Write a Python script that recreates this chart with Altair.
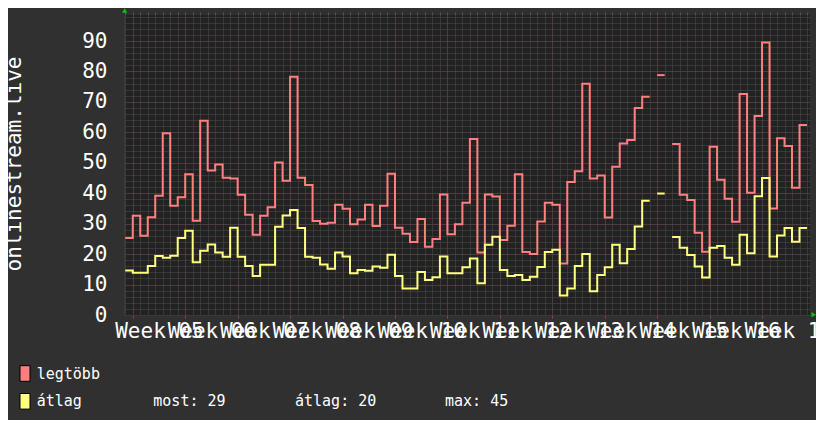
import altair as alt
import pandas as pd

# ---------------- data ----------------
days = list(range(91))
legtobb = [25.3, 32.6, 26.0, 32.1, 39.2, 59.7, 35.9, 38.7, 46.2, 31.0,
           63.8, 47.5, 49.4, 45.1, 44.8, 39.5, 32.9, 26.4, 32.6, 35.4,
           50.1, 44.1, 78.3, 45.1, 42.7, 30.9, 30.0, 30.3, 36.2, 34.9,
           29.8, 31.4, 36.2, 29.2, 35.9, 46.4, 28.7, 26.7, 24.0, 31.5,
           22.4, 25.0, 39.6, 26.5, 29.8, 36.9, 57.8, 20.5, 39.6, 38.9,
           24.6, 29.3, 46.2, 20.7, 20.0, 30.7, 36.9, 36.2, 16.9, 43.7,
           47.2, 76.0, 44.8, 45.8, 32.0, 48.7, 56.3, 57.5, 68.0, 71.7,
           None, 78.8, None, 56.2, 39.5, 37.8, 27.0, 20.8, 55.3, 44.4,
           38.2, 30.6, 72.6, 40.2, 65.4, 89.5, 35.0, 58.1, 55.5, 41.8,
           62.4]
atlag = [14.6, 13.9, 13.9, 16.1, 19.4, 18.8, 19.5, 25.3, 27.7, 17.3,
         21.1, 23.2, 20.5, 19.1, 28.7, 19.1, 16.1, 12.8, 16.5, 16.5,
         29.0, 32.7, 34.5, 28.6, 19.1, 18.8, 16.6, 15.2, 20.5, 19.2,
         13.7, 14.8, 14.5, 15.9, 15.5, 19.8, 12.8, 8.7, 8.7, 14.1,
         11.5, 12.4, 19.2, 13.7, 13.7, 15.7, 18.6, 10.4, 23.1, 25.7,
         14.8, 12.8, 13.1, 11.5, 12.6, 15.8, 20.7, 21.4, 6.4, 8.7,
         16.1, 20.0, 7.8, 13.1, 15.7, 23.1, 17.0, 21.7, 29.1, 37.5,
         None, 39.9, None, 25.6, 22.1, 19.7, 15.9, 12.3, 22.1, 22.7,
         18.8, 16.5, 26.4, 20.3, 39.0, 45.0, 19.2, 26.1, 28.6, 24.1,
         28.6]
series_names = ["legtöbb", "átlag"]
series_colors = ["#ff7f7f", "#ffff7f"]
week_starts = [1, 8, 15, 22, 29, 36, 43, 50, 57, 64, 71, 78, 85]
week_labels = ["Week 05", "Week 06", "Week 07", "Week 08", "Week 09",
               "Week 10", "Week 11", "Week 12", "Week 13", "Week 14",
               "Week 15", "Week 16", "Week 17"]
day_ticks = list(range(92))
y_major = [0, 10, 20, 30, 40, 50, 60, 70, 80, 90]
y_minor = list(range(0, 99, 2))
y_title = "onlinestream.live"
stat_texts = ["most: 29", "átlag: 20", "max: 45"]

# ---------------- build step table ----------------
rows = []
for name, vals in zip(series_names, [legtobb, atlag]):
    seg, gap = 0, True
    for d, v in zip(days, vals):
        if v is None:
            gap = True
            continue
        if gap:
            seg += 1
            gap = False
        rows.append(dict(series=name, seg=f"{name}-{seg}", x=d, y=v, o=2 * d))
        rows.append(dict(series=name, seg=f"{name}-{seg}", x=d + 1, y=v, o=2 * d + 1))
df = pd.DataFrame(rows)

FONT = "DejaVu Sans Mono"
xscale = alt.Scale(domain=[-0.17, 91.4], nice=False, zero=False)
yscale = alt.Scale(domain=[0, 98.55], nice=False, zero=False)

minor_grid = "#4e4e4e"
major_grid = "#763333"

lines = alt.Chart(df).mark_line(strokeWidth=2, interpolate="linear").encode(
    x=alt.X("x:Q", scale=xscale,
            axis=alt.Axis(orient="top", values=day_ticks, grid=True, gridColor=minor_grid,
                          gridDash=[1, 1], ticks=True, tickSize=3, tickColor="#555555",
                          labels=False, domain=False, title=None)),
    y=alt.Y("y:Q", scale=yscale,
            axis=alt.Axis(orient="right", values=y_minor, grid=True, gridColor=minor_grid,
                          gridDash=[1, 1], ticks=False, labels=False, domain=False, title=None)),
    color=alt.Color("series:N", scale=alt.Scale(domain=series_names, range=series_colors), legend=None),
    detail="seg:N",
    order="o:Q",
)

label_expr = "[" + ",".join(f"'{w}'" for w in week_labels) + "][round((datum.value-1)/7)]"

major = alt.Chart(df).mark_point(opacity=0).encode(
    x=alt.X("x:Q", scale=xscale,
            axis=alt.Axis(orient="bottom", values=week_starts, grid=True, gridColor=major_grid,
                          gridDash=[1, 1], ticks=True, tickSize=3, tickColor="#a04040",
                          domain=True, domainColor="#3a3a3a", labels=True, labelExpr=label_expr,
                          labelOffset=26.2, labelFlush=False, labelOverlap=False, labelBound=False,
                          labelFont=FONT, labelFontSize=21, labelColor="#ffffff",
                          labelPadding=2, title=None)),
    y=alt.Y("y:Q", scale=yscale,
            axis=alt.Axis(orient="left", values=y_major, grid=True, gridColor=major_grid,
                          gridDash=[1, 1], ticks=False, domain=True, domainColor="#3a3a3a",
                          labelFont=FONT, labelFontSize=21, labelColor="#ffffff",
                          labelPadding=17, title=None)),
)

one = pd.DataFrame({"k": [0]})

def text(t, x, y, size, angle=0, align="left"):
    return alt.Chart(one).mark_text(text=t, font=FONT, fontSize=size, color="#ffffff",
                                    align=align, baseline="middle", angle=angle).encode(
        x=alt.value(x), y=alt.value(y))

title = text(y_title, -109, 149, 21, angle=270, align="center")

arrow_up = alt.Chart(one).mark_point(shape="triangle-up", filled=True, color="#00cc00",
                                     size=28, opacity=1).encode(x=alt.value(0.7), y=alt.value(-4.5))
arrow_right = alt.Chart(one).mark_point(shape="triangle-right", filled=True, color="#00cc00",
                                        size=28, opacity=1).encode(x=alt.value(689.7), y=alt.value(299.7))

def box(color, y0, y1):
    return alt.Chart(one).mark_rect(color=color, stroke="#000000", strokeWidth=1).encode(
        x=alt.value(-104), x2=alt.value(-94), y=alt.value(y0), y2=alt.value(y1))

LEG = 15
legend = [
    box(series_colors[0], 350.7, 366.3),
    box(series_colors[1], 378.5, 394.1),
    text(series_names[0], -87.3, 358.5, LEG),
    text(series_names[1], -87.3, 386.3, LEG),
    text(stat_texts[0], 29.3, 386.3, LEG),
    text(stat_texts[1], 171, 386.3, LEG),
    text(stat_texts[2], 321, 386.3, LEG),
]

chart = alt.layer(major, lines, title, arrow_up, arrow_right, *legend).resolve_axis(
    x="independent", y="independent"
).properties(
    width=686, height=300,
    padding={"left": 116, "top": 7, "right": 6, "bottom": 105},
    autosize=alt.AutoSizeParams(type="none"),
    background="#303030",
).configure_view(fill="#222222", strokeWidth=0)

chart.save("out.html", embed_options={"renderer": "svg", "actions": False})
